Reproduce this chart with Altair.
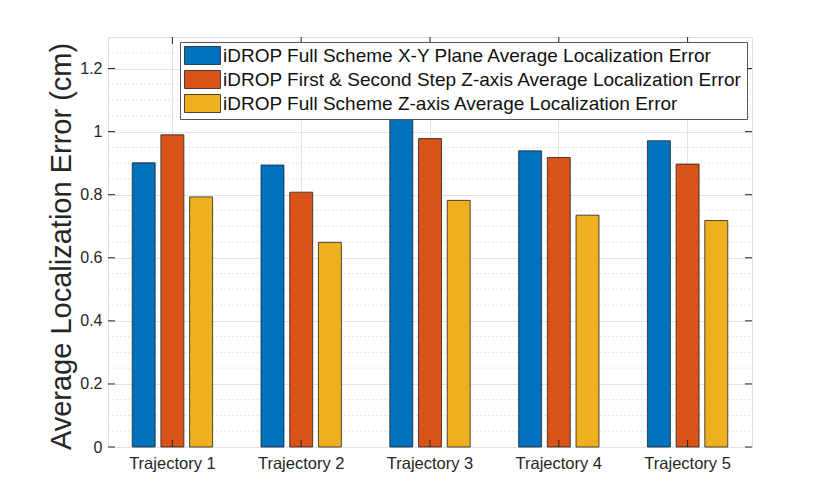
import altair as alt
import pandas as pd

trajectories = ["Trajectory 1", "Trajectory 2", "Trajectory 3", "Trajectory 4", "Trajectory 5"]
series = [
    "iDROP Full Scheme X-Y Plane Average Localization Error",
    "iDROP First & Second Step Z-axis Average Localization Error",
    "iDROP Full Scheme Z-axis Average Localization Error",
]
xy_full = [0.901, 0.894, 1.040, 0.939, 0.971]
z_first_second = [0.990, 0.808, 0.978, 0.918, 0.897]
z_full = [0.793, 0.649, 0.782, 0.735, 0.718]
colors = ["#0072BD", "#D95319", "#EDB120"]
major_ticks = [0, 0.2, 0.4, 0.6, 0.8, 1.0, 1.2]
minor_grid = [0.05, 0.1, 0.15, 0.25, 0.3, 0.35, 0.45, 0.5, 0.55, 0.65, 0.7, 0.75,
              0.85, 0.9, 0.95, 1.05, 1.1, 1.15, 1.25]

rows = []
for s, vals in zip(series, [xy_full, z_first_second, z_full]):
    for t, v in zip(trajectories, vals):
        rows.append({"Trajectory": t, "Series": s, "Error": v})
df = pd.DataFrame(rows)
minor_df = pd.DataFrame({"Error": minor_grid})
major_df = pd.DataFrame({"Error": major_ticks})
traj_df = pd.DataFrame({"Trajectory": trajectories})

W, H = 644, 410
TXT = "#262626"
FONT = "Liberation Sans"
yscale = alt.Scale(domain=[0, 1.3], nice=False, zero=True)
xscale = alt.Scale(domain=trajectories, paddingInner=0, paddingOuter=0)

xaxis = alt.Axis(title=None, labelAngle=0, labelFontSize=16.5, labelColor=TXT,
                 labelFont=FONT, labelPadding=8, ticks=False,
                 domain=False, grid=True, gridColor="#e2e2e2")
yaxis = alt.Axis(title="Average Localization Error (cm)", values=major_ticks,
                 format="~g", labelFontSize=16, labelColor=TXT,
                 labelFont=FONT, labelPadding=6, ticks=False,
                 domain=False, grid=True, gridColor="#e2e2e2",
                 titleFontSize=29, titleFont=FONT,
                 titleFontWeight="normal", titleColor=TXT, titlePadding=3,
                 titleY=H / 2 + 4)

Y = alt.Y("Error:Q", scale=yscale, axis=yaxis, title="Average Localization Error (cm)")
X = alt.X("Trajectory:N", scale=xscale, sort=trajectories, axis=xaxis, title=None)

minor = alt.Chart(minor_df).mark_rule(color="#e4e4e4", strokeDash=[2, 2], strokeWidth=1).encode(
    y=Y, x=alt.value(0), x2=alt.value(W),
)

bars = alt.Chart(df).mark_bar(stroke="#222222", strokeWidth=0.8).encode(
    x=X,
    xOffset=alt.XOffset("Series:N", sort=series,
                        scale=alt.Scale(paddingInner=0.2, paddingOuter=0.844)),
    y=Y,
    color=alt.Color("Series:N", sort=series,
                    scale=alt.Scale(domain=series, range=colors),
                    legend=alt.Legend(title=None, orient="none", legendX=72, legendY=5,
                                      labelFontSize=19, labelFont=FONT,
                                      labelColor="#111111", labelLimit=0,
                                      symbolType="M-2,-1H2V1H-2Z", symbolSize=324,
                                      symbolOffset=9,
                                      symbolStrokeColor="#222222", symbolStrokeWidth=0.8,
                                      symbolOpacity=1, labelOffset=11, rowPadding=1,
                                      padding=4, fillColor="white",
                                      strokeColor="#555555")),
)

ytick_l = alt.Chart(major_df).mark_rule(color=TXT, strokeWidth=1).encode(
    y=Y, x=alt.value(0), x2=alt.value(7))
ytick_r = alt.Chart(major_df).mark_rule(color=TXT, strokeWidth=1).encode(
    y=Y, x=alt.value(W - 7), x2=alt.value(W))
xtick_b = alt.Chart(traj_df).mark_rule(color=TXT, strokeWidth=1).encode(
    x=X, y=alt.value(H - 7), y2=alt.value(H))
xtick_t = alt.Chart(traj_df).mark_rule(color=TXT, strokeWidth=1).encode(
    x=X, y=alt.value(0), y2=alt.value(7))

chart = alt.layer(minor, bars, xtick_b, xtick_t, ytick_l, ytick_r).properties(
    width=W, height=H,
    autosize=alt.AutoSizeParams(type="none"),
    padding={"left": 100, "top": 29, "right": 62, "bottom": 40},
).configure_view(stroke=TXT, strokeWidth=1).configure(background="white")

chart.save("out.html", embed_options={"renderer": "svg", "actions": False})
